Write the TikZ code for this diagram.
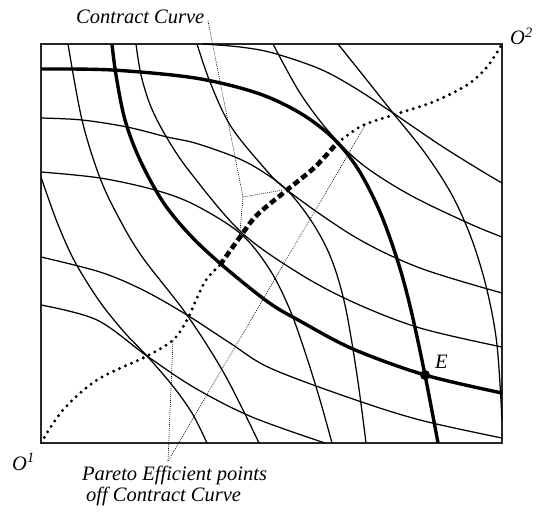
\documentclass[tikz,border=0pt]{standalone}
\usepackage{fontspec}
\setmainfont{Liberation Serif}
\begin{document}
\begin{tikzpicture}[x=1pt,y=-1pt,
  ic/.style={line width=1.25pt, line join=round},
  icthick/.style={line width=3.4pt, line join=round},
  ccdot/.style={line width=3.3pt, line cap=round, dash pattern=on 0pt off 6.5pt},
  ccdash/.style={line width=4.6pt, dash pattern=on 6.5pt off 3.5pt},
  pointer/.style={line width=0.6pt, dash pattern=on 0.9pt off 1.1pt},
  lab/.style={font=\fontsize{20.5}{24}\selectfont\itshape, inner sep=0pt},
  sm/.style={smooth, tension=0.55}]
\useasboundingbox (0,0) rectangle (537,519);
% box
\draw[line width=1.1pt, black!85] (41,44) rectangle (502,443);
\begin{scope}
\clip (41,44) rectangle (502,443);
% thin indifference curves
\draw[ic] plot[sm] coordinates {(41,118) (82,120) (127,127) (167,137) (195,143) (235,157) (260,170) (287,190) (312,222) (331,258) (345,305) (357,375) (366,443)};
\draw[ic] plot[sm] coordinates {(41,172) (100,178) (155,190) (195,205) (241,234) (270,270) (290,310) (306,355) (320,400) (332,443)};
\draw[ic] plot[sm] coordinates {(41,257) (100,272) (143,290) (187,315) (230,343) (270,368) (350,398) (420,420) (502,438)};
\draw[ic] plot[sm] coordinates {(41,305) (97,320) (147,356) (195,388) (252,417) (325,443)};
\draw[ic] plot[sm] coordinates {(41,177) (57,222) (75,262) (100,302) (125,333) (147,356) (172,385) (192,413) (207,443)};
\draw[ic] plot[sm] coordinates {(68,44) (82,120) (100,178) (120,220) (143,258) (187,315) (225,375) (259,443)};
\draw[ic] plot[sm] coordinates {(136,44) (141,75) (151,107) (167,138) (190,172) (241,232) (300,274) (355,303) (420,328) (502,347)};
\draw[ic] plot[sm] coordinates {(197,44) (210,82) (230,125) (260,163) (287,190) (355,237) (420,268) (502,293)};
\draw[ic] plot[sm] coordinates {(273,44) (300,93) (330,133) (363,165) (410,195) (468,223) (502,237)};
\draw[ic] plot[sm] coordinates {(338,44) (362,74) (393,113) (425,153) (452,195) (472,240) (487,290) (497,345) (502,420)};
\draw[ic] plot[sm] coordinates {(203,44) (240,47) (273,53) (320,69) (355,88) (393,113) (440,145) (480,170) (502,183)};
% thick indifference curves
\draw[icthick] plot[sm] coordinates {(41,69) (112,70) (195,78) (257,93) (300,113) (333,138) (358,169) (380,212) (398,262) (411,310) (425,375) (438,443)};
\draw[icthick] plot[sm] coordinates {(112,44) (116,75) (125,120) (140,160) (163,202) (190,235) (222,265) (268,302) (300,321) (353,349) (425,375) (502,393)};
% contract curve
\draw[ccdot] plot[sm] coordinates {(41,443) (63,410) (97,380) (147,356) (173,340) (187,320) (196,300) (206,280) (220,265)};
\draw[ccdash] plot[sm] coordinates {(220,265) (240,237) (257,215) (287,190) (315,167) (337,143)};
\draw[ccdot] plot[sm] coordinates {(337,143) (355,130) (366,124) (393,115) (433,102) (467,85) (487,67) (502,44)};
\end{scope}
% equilibrium point
\fill (425,375) circle (5pt);
\node[lab, anchor=base west] (E) at (435,368) {E};
% origins
\node[lab, anchor=base west] (O1) at (12,470) {O\textsuperscript{1}};
\node[lab, anchor=base west] (O2) at (510,45) {O\textsuperscript{2}};
% labels
\node[lab, anchor=base west] (cc) at (76,24) {Contract Curve};
\node[lab, anchor=base west] (pe1) at (82,480) {Pareto Efficient points};
\node[lab, anchor=base west] (pe2) at (86,501) {off Contract Curve};
% pointers
\coordinate (ccp) at (208,21);
\coordinate (ccb) at (243,197);
\coordinate (cct1) at (283,190);
\coordinate (cct2) at (240,231);
\draw[pointer] (ccp) -- (ccb) -- (cct1);
\draw[pointer] (ccb) -- (cct2);
\coordinate (pep) at (168,461);
\coordinate (pet1) at (173,340);
\coordinate (pet2) at (366,124);
\draw[pointer] (pep) -- (pet1);
\draw[pointer] (pep) -- (pet2);
\end{tikzpicture}
\end{document}
